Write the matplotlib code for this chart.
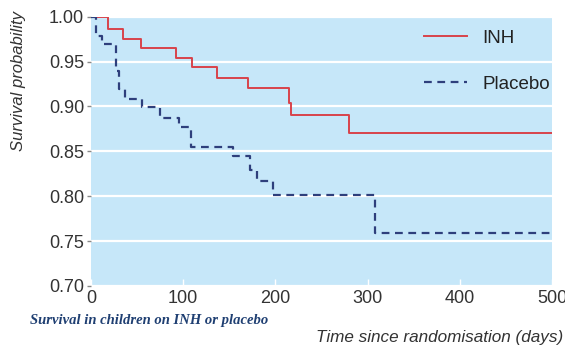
import matplotlib.pyplot as plt

# datos
inh_t = [0, 18, 35, 54, 92, 110, 137, 170, 215, 217, 280, 500]
inh_s = [1.0, 0.986, 0.975, 0.965, 0.954, 0.944, 0.932, 0.921, 0.904, 0.891, 0.870, 0.870]

plac_t = [0, 6, 12, 27, 30, 37, 55, 75, 95, 109, 154, 172, 180, 197, 308, 500]
plac_s = [1.0, 0.979, 0.970, 0.939, 0.919, 0.908, 0.899, 0.887, 0.877, 0.855,
          0.845, 0.829, 0.817, 0.801, 0.759, 0.759]

xticks = [0, 100, 200, 300, 400, 500]
yticks = [0.70, 0.75, 0.80, 0.85, 0.90, 0.95, 1.00]

fuente = ['Liberation Sans', 'DejaVu Sans']
tick_c = '#333333'

fig = plt.figure(figsize=(5.65, 3.52), dpi=100)
ax = fig.add_axes([0.161, 0.1875, 0.816, 0.765])
ax.set_facecolor('#c6e7f9')

ax.step(inh_t, inh_s, where='post', color='#d8434b', lw=1.4, label='INH')
ax.step(plac_t, plac_s, where='post', color='#2e3f7c', lw=1.6,
        ls=(0, (3.5, 2.5)), label='Placebo')

ax.set_xlim(0, 500)
ax.set_ylim(0.70, 1.00)
ax.set_xticks(xticks)
ax.set_yticks(yticks)
ax.set_yticklabels(['%.2f' % v for v in yticks])
ax.yaxis.grid(True, color='white', lw=1.6)
ax.set_axisbelow(True)
for s in ax.spines.values():
    s.set_visible(False)

ax.tick_params(axis='x', direction='in', color='white', length=5, width=1,
               labelsize=13, labelcolor=tick_c, pad=3)
ax.tick_params(axis='y', direction='out', color='#888888', length=3, width=1,
               labelsize=13, labelcolor=tick_c, pad=2)
for lab in ax.get_xticklabels() + ax.get_yticklabels():
    lab.set_family(fuente)

leg = ax.legend(loc='upper right', bbox_to_anchor=(1.012, 0.98), frameon=False,
                handlelength=2.3, labelspacing=1.55, borderaxespad=0.0,
                handletextpad=0.8, prop={'family': fuente, 'size': 13.5})
for t in leg.get_texts():
    t.set_color('#222222')

fig.text(0.032, 0.97, 'Survival probability', rotation=90, ha='center', va='top',
         style='italic', fontsize=12, color=tick_c, family=fuente)
fig.text(0.997, 0.04, 'Time since randomisation (days)', ha='right', va='center',
         style='italic', fontsize=12.3, color=tick_c, family=fuente)
fig.text(0.053, 0.09, 'Survival in children on INH or placebo', ha='left', va='center',
         style='italic', weight='bold', fontsize=10.5, color='#1f3f72',
         family=['Liberation Serif', 'DejaVu Serif'])

fig.savefig('out.png', dpi=100)
